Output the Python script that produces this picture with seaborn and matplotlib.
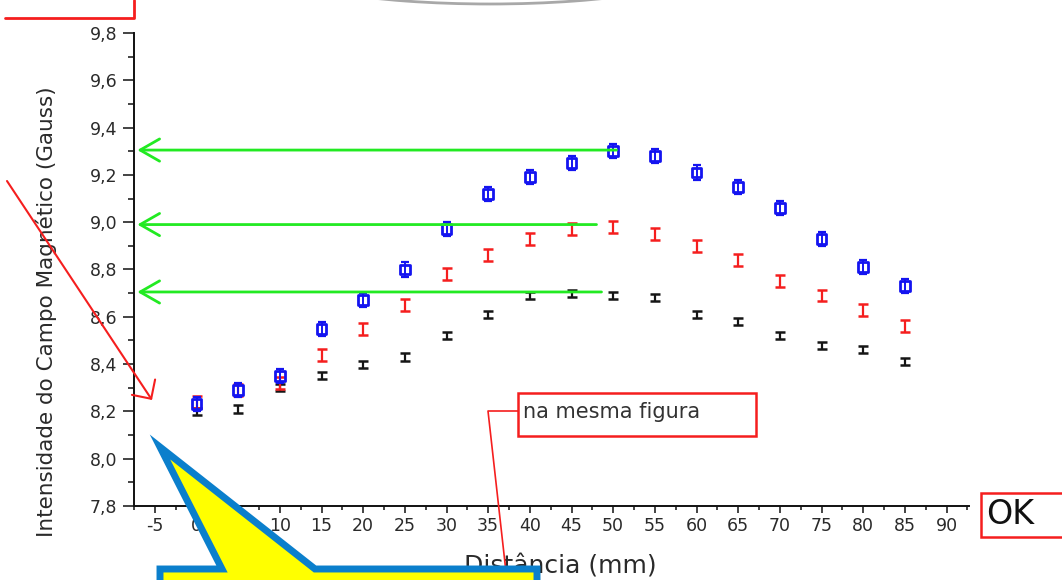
import matplotlib
matplotlib.use("Agg")
import matplotlib.pyplot as plt
import seaborn as sns
import pandas as pd
from matplotlib.patches import Polygon, Rectangle, Arc
from matplotlib.lines import Line2D
from matplotlib.ticker import MultipleLocator, FuncFormatter
from matplotlib.transforms import Affine2D

# ---------------- data ----------------
distance = [0, 5, 10, 15, 20, 25, 30, 35, 40, 45, 50, 55, 60, 65, 70, 75, 80, 85]
blue_vals = [8.23, 8.29, 8.35, 8.55, 8.67, 8.80, 8.97, 9.12, 9.19, 9.25, 9.30, 9.28,
             9.21, 9.15, 9.06, 8.93, 8.81, 8.73]
red_vals = [8.24, 8.29, 8.32, 8.44, 8.55, 8.65, 8.78, 8.86, 8.93, 8.97, 8.98, 8.95,
            8.90, 8.84, 8.75, 8.69, 8.63, 8.56]
black_vals = [8.20, 8.21, 8.30, 8.35, 8.40, 8.43, 8.52, 8.61, 8.69, 8.70, 8.69, 8.68,
              8.61, 8.58, 8.52, 8.48, 8.46, 8.41]
blue_err = [0.03, 0.03, 0.03, 0.03, 0.03, 0.03, 0.03, 0.03, 0.03, 0.03, 0.03, 0.03,
            0.03, 0.03, 0.03, 0.03, 0.03, 0.03]
red_err = [0.025, 0.025, 0.025, 0.025, 0.025, 0.025, 0.025, 0.025, 0.025, 0.025, 0.025,
           0.025, 0.025, 0.025, 0.025, 0.025, 0.025, 0.025]
black_err = [0.015, 0.015, 0.015, 0.015, 0.015, 0.015, 0.015, 0.015, 0.015, 0.015, 0.015,
             0.015, 0.015, 0.015, 0.015, 0.015, 0.015, 0.015]
guide_levels = [9.305, 8.99, 8.705]
guide_ends = [50.4, 48.0, 48.6]
x_ticks = [-5, 0, 5, 10, 15, 20, 25, 30, 35, 40, 45, 50, 55, 60, 65, 70, 75, 80, 85, 90]
y_ticks = [7.8, 8.0, 8.2, 8.4, 8.6, 8.8, 9.0, 9.2, 9.4, 9.6, 9.8]

BLUE = "#1414f0"
RED = "#f51e1e"
BLACK = "#151515"
GREEN = "#22ea22"

W, H = 1062, 580

sns.set_theme(style="white")
plt.rcParams["font.family"] = ["DejaVu Sans"]

fig = plt.figure(figsize=(W / 100, H / 100), dpi=100)
fig.patch.set_facecolor("white")
ax = fig.add_axes([134 / W, 1 - 506 / H, 835 / W, 473 / H])
ax.set_facecolor("white")

# image-pixel (y down) -> figure transform for slide decorations
T = Affine2D().scale(1 / W, -1 / H).translate(0, 1) + fig.transFigure

df = pd.DataFrame({"distance": distance, "blue": blue_vals})

ax.errorbar(distance, black_vals, yerr=black_err, fmt="none", ecolor=BLACK,
            elinewidth=1.6, capsize=3.5, capthick=1.8, zorder=3)
ax.errorbar(distance, red_vals, yerr=red_err, fmt="none", ecolor=RED,
            elinewidth=1.6, capsize=3.6, capthick=1.8, zorder=3)
ax.errorbar(distance, blue_vals, yerr=blue_err, fmt="none", ecolor=BLUE,
            elinewidth=1.4, capsize=3.0, capthick=1.6, zorder=4)
sns.scatterplot(data=df, x="distance", y="blue", marker="s", s=50,
                facecolor="none", edgecolor=BLUE, linewidth=2.0, ax=ax, zorder=5)

ax.set_xlim(-7.5, 92.7)
ax.set_ylim(7.8, 9.8)
ax.set_xticks(x_ticks)
ax.set_yticks(y_ticks)
ax.xaxis.set_minor_locator(MultipleLocator(2.5))
ax.yaxis.set_minor_locator(MultipleLocator(0.1))
ax.yaxis.set_major_formatter(FuncFormatter(lambda v, p: f"{v:.1f}".replace(".", ",")))
ax.xaxis.set_major_formatter(FuncFormatter(lambda v, p: f"{v:.0f}"))

for s in ["top", "right"]:
    ax.spines[s].set_visible(False)
for s in ["left", "bottom"]:
    ax.spines[s].set_color("#111111")
    ax.spines[s].set_linewidth(1.4)

ax.tick_params(axis="x", which="major", direction="out", length=5, width=1.1,
               color="#111111", labelsize=12.5, labelcolor="#2a2a2a", pad=3, bottom=True)
ax.tick_params(axis="x", which="minor", direction="out", length=3, width=1.1,
               color="#111111", bottom=True)
ax.tick_params(axis="y", which="major", direction="out", length=8, width=1.1,
               color="#111111", labelsize=12.5, labelcolor="#2a2a2a", pad=4, left=True)
ax.tick_params(axis="y", which="minor", direction="out", length=4.3, width=1.1,
               color="#111111", left=True)

ax.set_xlabel("Distância (mm)", fontsize=18, color="#2a2a2a")
ax.set_ylabel("Intensidade do Campo Magnético (Gauss)", fontsize=15.5, color="#2a2a2a")
ax.xaxis.set_label_coords(0.51, -0.103)
ax.yaxis.set_label_coords(-0.092, 0.41)

# green guide arrows
for lvl, end in zip(guide_levels, guide_ends):
    ax.annotate("", xy=(-7.1, lvl), xytext=(end, lvl),
                arrowprops=dict(arrowstyle="->,head_length=1.4,head_width=0.8",
                                color=GREEN, lw=2.0, shrinkA=0, shrinkB=0,
                                mutation_scale=10),
                annotation_clip=False, zorder=6)

# ---------------- slide decorations (image pixel coordinates) ----------------
# red corner line top-left
fig.add_artist(Line2D([5, 134, 134], [18, 18, 0], transform=T, color=RED, lw=2.0))
# grey arc at top
fig.add_artist(Arc((490, -35), 440, 78, transform=T, color="#a8a8a8", lw=2.0))

# red diagonal arrow
ax.annotate("", xy=(152, 400), xytext=(7, 181), xycoords=T, textcoords=T,
            arrowprops=dict(arrowstyle="->,head_length=1.0,head_width=1.0",
                            color=RED, lw=1.5, shrinkA=0, shrinkB=0, mutation_scale=10),
            annotation_clip=False, zorder=7)

# "na mesma figura" box and connector
fig.add_artist(Line2D([518, 488, 508], [411, 411, 590], transform=T, color=RED, lw=1.2,
                      zorder=6))
fig.add_artist(Rectangle((518, 393), 238, 43, transform=T, facecolor="white",
                         edgecolor=RED, lw=1.8, zorder=6))
fig.text(523 / W, 1 - 412 / H, "na mesma figura", fontsize=15, color="#333333",
         va="center", ha="left", zorder=7)

# "OK" box
fig.add_artist(Rectangle((981, 493), 90, 44, transform=T, facecolor="white",
                         edgecolor=RED, lw=1.8, zorder=6))
fig.text(986 / W, 1 - 515 / H, "OK", fontsize=24, color="#111111",
         va="center", ha="left", zorder=7)

# yellow callout
callout = [(160, 447), (315, 569), (537, 569), (537, 620), (160, 620), (160, 569), (222, 569)]
fig.add_artist(Polygon(callout, closed=True, transform=T, facecolor="#ffff00",
                       edgecolor="#0b7fcc", lw=5, joinstyle="miter", zorder=8))

fig.savefig("out.png", dpi=100, facecolor="white")
